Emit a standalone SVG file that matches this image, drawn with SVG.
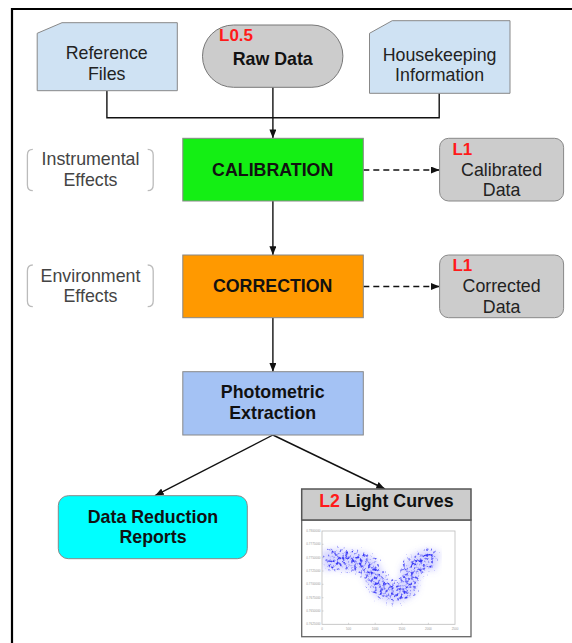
<svg xmlns="http://www.w3.org/2000/svg" width="572" height="643" viewBox="0 0 572 643">
  <style>
    text { font-family: "Liberation Sans", Arial, sans-serif; }
    .lbl { font-size: 17.8px; fill: #222; text-anchor: middle; }
    .bold { font-size: 17.8px; font-weight: bold; fill: #111; text-anchor: middle; }
    .big { font-size: 17.8px; font-weight: bold; fill: #111; text-anchor: middle; }
    .lvl { font-size: 17px; font-weight: bold; fill: #ff1a1a; }
    .note { font-size: 17.8px; fill: #444; text-anchor: middle; }
    .brk { fill: none; stroke: #bbb; stroke-width: 1.3; }
    .box { stroke: #888; stroke-width: 1; }
    .wire { fill: none; stroke: #111; stroke-width: 1.4; }
    .dash { stroke-dasharray: 6 4; }
    .tick { font-size: 3px; fill: #999; }
    .axis { fill: none; stroke: #bbb; stroke-width: 0.8; }
    .band { fill: none; stroke-linejoin: round; stroke-linecap: butt; }
  </style>
  <defs>
    <marker id="ah" viewBox="0 0 10 8" refX="10" refY="4" markerWidth="9" markerHeight="7" orient="auto" markerUnits="userSpaceOnUse">
      <path d="M0 0 L10 4 L0 8 Z" fill="#111"/>
    </marker>
    <!-- soft haze under the samples -->
    <filter id="haze" filterUnits="userSpaceOnUse" x="322" y="530" width="120" height="100">
      <feGaussianBlur stdDeviation="3"/>
    </filter>
    <!-- speckled samples: noise thresholded inside the band -->
    <filter id="scatter" filterUnits="userSpaceOnUse" x="322" y="535" width="120" height="90" color-interpolation-filters="sRGB">
      <feGaussianBlur in="SourceAlpha" stdDeviation="4" result="soft"/>
      <feTurbulence type="fractalNoise" baseFrequency="0.35" numOctaves="2" seed="4" result="noise"/>
      <feColorMatrix in="noise" type="matrix" values="0 0 0 0 0  0 0 0 0 0  0 0 0 0 0  1 0 0 0 0" result="na"/>
      <feComposite in="na" in2="soft" operator="arithmetic" k1="0" k2="1" k3="0.45" k4="-0.9" result="m"/>
      <feComponentTransfer in="m" result="mask"><feFuncA type="linear" slope="3.5" intercept="0"/></feComponentTransfer>
      <feFlood flood-color="#3a3af5"/>
      <feComposite in2="mask" operator="in"/>
    </filter>
    <path id="lc" d="M322 561 L335 559 L350 561 L362 562 L369 567 L375 578 L381 588 L392 593 L402 591 L408 587 L411 570 L418 563 L428 559 L438 562"/>
  </defs>

  <rect width="572" height="643" fill="#fff"/>
  <!-- page frame -->
  <path d="M12 643 V9 H572" fill="none" stroke="#000" stroke-width="2.2"/>

  <!-- connectors -->
  <g id="connectors">
    <path class="wire" d="M106.9 91 V117.7 H439.2 V93.3"/>
    <path class="wire" d="M272.9 87.3 V138.3" marker-end="url(#ah)"/>
    <path class="wire" d="M272.9 201 V255" marker-end="url(#ah)"/>
    <path class="wire" d="M272.9 317.7 V371.7" marker-end="url(#ah)"/>
    <path class="wire dash" d="M363.3 170 H439.6" marker-end="url(#ah)"/>
    <path class="wire dash" d="M363.3 286.5 H439.6" marker-end="url(#ah)"/>
    <path class="wire" d="M272.9 435 L155 495.7" marker-end="url(#ah)"/>
    <path class="wire" d="M272.9 435 L385 489" marker-end="url(#ah)"/>
  </g>

  <g id="reference-files">
    <path class="box" d="M37.2 33.3 L62 22.7 H177.3 V90.7 H37.2 Z" fill="#cfe2f3"/>
    <text class="lbl" x="106.7" y="59.3">Reference</text>
    <text class="lbl" x="106.7" y="80">Files</text>
  </g>

  <g id="raw-data">
    <rect x="202.5" y="25" width="140.4" height="62.3" rx="31" ry="31" fill="#cccccc" stroke="#777" stroke-width="1"/>
    <text class="lvl" x="219" y="40.7">L0.5</text>
    <text class="bold" x="272.7" y="65">Raw Data</text>
  </g>

  <g id="housekeeping">
    <path class="box" d="M369.5 33.3 L392.2 20.7 H510 V93.3 H369.5 Z" fill="#cfe2f3"/>
    <text class="lbl" x="439.6" y="60.7">Housekeeping</text>
    <text class="lbl" x="439.6" y="81">Information</text>
  </g>

  <g id="instrumental-effects">
    <path class="brk" d="M32.8 149.3 Q27.4 149.3 27.4 155 V185 Q27.4 190.7 32.8 190.7"/>
    <path class="brk" d="M147.7 149.3 Q153.2 149.3 153.2 155 V185 Q153.2 190.7 147.7 190.7"/>
    <text class="note" x="90.5" y="165">Instrumental</text>
    <text class="note" x="90.5" y="186">Effects</text>
  </g>

  <g id="calibration">
    <rect class="box" x="182.8" y="138.3" width="180.5" height="62.7" fill="#14ef14"/>
    <text class="bold" x="272.7" y="175.7">CALIBRATION</text>
  </g>

  <g id="calibrated-data">
    <rect x="439.6" y="138.3" width="124" height="62.7" rx="9" fill="#cccccc" stroke="#888" stroke-width="1"/>
    <text class="lvl" x="452.4" y="155">L1</text>
    <text class="lbl" x="501.6" y="175.7">Calibrated</text>
    <text class="lbl" x="501.6" y="196">Data</text>
  </g>

  <g id="environment-effects">
    <path class="brk" d="M32.8 265 Q27.4 265 27.4 271 V301 Q27.4 306.7 32.8 306.7"/>
    <path class="brk" d="M147.7 265 Q153.2 265 153.2 271 V301 Q153.2 306.7 147.7 306.7"/>
    <text class="note" x="90.5" y="281.7">Environment</text>
    <text class="note" x="90.5" y="301.7">Effects</text>
  </g>

  <g id="correction">
    <rect class="box" x="182.8" y="255" width="180.5" height="62.7" fill="#ff9900"/>
    <text class="bold" x="272.7" y="291.7">CORRECTION</text>
  </g>

  <g id="corrected-data">
    <rect x="439.6" y="255" width="124" height="62.7" rx="9" fill="#cccccc" stroke="#888" stroke-width="1"/>
    <text class="lvl" x="452.4" y="270.7">L1</text>
    <text class="lbl" x="501.6" y="292.3">Corrected</text>
    <text class="lbl" x="501.6" y="312.7">Data</text>
  </g>

  <g id="photometric-extraction">
    <rect class="box" x="182.8" y="371.7" width="180.5" height="63.3" fill="#a4c2f4"/>
    <text class="bold" x="272.7" y="398.3">Photometric</text>
    <text class="bold" x="272.7" y="419.3">Extraction</text>
  </g>

  <g id="data-reduction-reports">
    <rect x="58.3" y="495.7" width="189" height="63" rx="10" fill="#00ffff" stroke="#888" stroke-width="1"/>
    <text class="big" x="153" y="523.3">Data Reduction</text>
    <text class="big" x="153" y="543.3">Reports</text>
  </g>

  <g id="light-curves">
    <rect x="301.7" y="520" width="169.3" height="116.7" fill="#fff" stroke="#666" stroke-width="1.3"/>
    <rect x="301.7" y="489" width="169.3" height="31" fill="#cccccc" stroke="#555" stroke-width="1.5"/>
    <text class="big" x="386.4" y="506.7"><tspan fill="#ff1a1a">L2</tspan> Light Curves</text>
    <!-- plot axes -->
    <rect class="axis" x="322" y="531" width="133" height="93.3"/>
    <g stroke="#bbb" stroke-width="0.6">
      <path d="M348.6 624.3 v-1.5 M375.2 624.3 v-1.5 M401.8 624.3 v-1.5 M428.4 624.3 v-1.5"/>
      <path d="M322 544.3 h1.5 M322 557.7 h1.5 M322 571 h1.5 M322 584.3 h1.5 M322 597.7 h1.5 M322 611 h1.5"/>
    </g>
    <g class="tick" text-anchor="end">
      <text x="320.5" y="532">0.7800000</text>
      <text x="320.5" y="545.3">0.7775000</text>
      <text x="320.5" y="558.7">0.7750000</text>
      <text x="320.5" y="572">0.7725000</text>
      <text x="320.5" y="585.3">0.7700000</text>
      <text x="320.5" y="598.7">0.7675000</text>
      <text x="320.5" y="612">0.7650000</text>
      <text x="320.5" y="625.3">0.7625000</text>
    </g>
    <g class="tick" text-anchor="middle">
      <text x="322" y="629.5">0</text>
      <text x="348.6" y="629.5">500</text>
      <text x="375.2" y="629.5">1000</text>
      <text x="401.8" y="629.5">1500</text>
      <text x="428.4" y="629.5">2000</text>
      <text x="455" y="629.5">2500</text>
    </g>
    <!-- scattered flux samples -->
    <use href="#lc" class="band" stroke="#7d7dff" stroke-opacity="0.3" stroke-width="20" filter="url(#haze)"/>
    <use href="#lc" class="band" stroke="#000" stroke-width="26" filter="url(#scatter)"/>
  </g>
</svg>
